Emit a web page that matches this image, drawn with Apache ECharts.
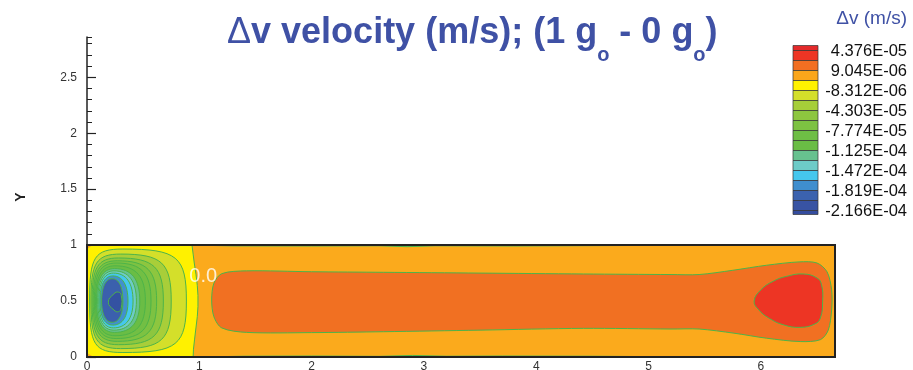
<!DOCTYPE html>
<html><head><meta charset="utf-8">
<script src="https://cdn.jsdelivr.net/npm/echarts@6/dist/echarts.min.js"></script>
<style>html,body{margin:0;padding:0;background:#fff}#c{width:913px;height:370px}</style>
</head><body><div id="c"></div>
<script>
// ---- data (data units) ----
const domainX = [0, 6.66];
const domainY = [0, 1];
const yTickLabels = ['0', '0.5', '1', '1.5', '2', '2.5'];
const xTickLabels = ['0', '1', '2', '3', '4', '5', '6'];
const legendTitle = 'Δv (m/s)';
const legendLabels = ['4.376E-05', '9.045E-06', '-8.312E-06', '-4.303E-05', '-7.774E-05', '-1.125E-04', '-1.472E-04', '-1.819E-04', '-2.166E-04'];
const legendColors = ['#E32A2B', '#EE3524', '#F26F22', '#FAA61B', '#FFF200', '#D4DF2A', '#A6CE39', '#8DC63F', '#7DC242', '#6EBE45', '#6ABD45', '#67C18F', '#6DCBC8', '#45C7EE', '#3F8ECE', '#3B62AE', '#3853A3', '#344C9E'];
const zeroLabel = { text: '0.0', at: [1.035, 0.72] };

// contour regions (polygons in data coordinates)
const orangeBg = [[0, 0], [6.66, 0], [6.66, 1], [0, 1]];
const topWallStrip = [[0.95, 1], [1.3, 0.993], [2.0, 0.992], [2.6, 0.994], [2.85, 0.986], [3.1, 0.994], [3.8, 0.992], [4.5, 0.995], [5.6, 1]];
const bottomWallStrip = [[1.0, 0], [1.4, 0.007], [2.0, 0.009], [2.6, 0.006], [2.9, 0.014], [3.2, 0.007], [3.7, 0.009], [4.5, 0.007], [5.5, 0]];
const yellowLeft = [[0, 1], [0.935, 1], [0.945, 0.92], [0.955, 0.84], [0.97, 0.74], [0.982, 0.64], [0.988, 0.55], [0.988, 0.45], [0.982, 0.36], [0.97, 0.26], [0.958, 0.16], [0.948, 0.07], [0.945, 0], [0, 0]];
const cornerTop = [[0, 1], [0.05, 1], [0, 0.965]];
const cornerBottom = [[0, 0], [0.06, 0], [0, 0.035]];
// vortex contour rings, outer to inner: left / right / top / bottom extents and x of top & bottom extremes
const vortexL = [0.023, 0.035, 0.045, 0.055, 0.065, 0.075, 0.085, 0.095, 0.105, 0.115, 0.13];
const vortexR = [0.885, 0.75, 0.68, 0.62, 0.57, 0.52, 0.47, 0.44, 0.41, 0.365, 0.32];
const vortexT = [0.965, 0.92, 0.885, 0.86, 0.84, 0.815, 0.79, 0.77, 0.75, 0.725, 0.70];
const vortexB = [0.04, 0.075, 0.11, 0.14, 0.165, 0.19, 0.22, 0.24, 0.26, 0.285, 0.31];
const vortexC = [0.32, 0.30, 0.28, 0.27, 0.26, 0.25, 0.245, 0.24, 0.235, 0.23, 0.225];
const vortexCoreY = 0.5;
const vortexCore = [[0.19, 0.49], [0.24, 0.565], [0.28, 0.58], [0.305, 0.55], [0.305, 0.44], [0.28, 0.405], [0.24, 0.42]];
const orangeBand = [[1.11, 0.51], [1.13, 0.66], [1.2, 0.745], [1.42, 0.77], [2, 0.762], [2.64, 0.757], [3.5, 0.75], [4.42, 0.742], [5.2, 0.737], [5.45, 0.737], [5.75, 0.775], [6.05, 0.82], [6.34, 0.85], [6.5, 0.84], [6.59, 0.76], [6.63, 0.6], [6.63, 0.42], [6.6, 0.24], [6.53, 0.155], [6.35, 0.138], [6.05, 0.168], [5.76, 0.213], [5.45, 0.25], [5.2, 0.25], [4.42, 0.256], [3.5, 0.24], [2.64, 0.226], [2, 0.218], [1.42, 0.22], [1.2, 0.26], [1.13, 0.36]];
const redBlob = [[5.94, 0.50], [6.0, 0.60], [6.11, 0.677], [6.23, 0.721], [6.38, 0.742], [6.5, 0.706], [6.54, 0.646], [6.55, 0.498], [6.53, 0.349], [6.48, 0.295], [6.35, 0.265], [6.2, 0.288], [6.07, 0.349], [5.98, 0.423]];

// ---- styling / assembly ----
const vortexColors = ['#D4DF2A', '#A8CE39', '#8DC63F', '#7DC242', '#72BF44', '#6ABD45', '#67C18F', '#6DCBC8', '#45C7EE', '#4190CE', '#3B60AD', '#3452A2'];
const ringSquareness = [0.86, 0.82, 0.79, 0.76, 0.73, 0.70, 0.68, 0.66, 0.65, 0.64, 0.63];
const LINE = '#4DB449';
const FONT = 'Liberation Sans, Arial, sans-serif';
const BLUE = '#3F51A5';

const layers = [];
layers.push({ pts: orangeBg, fill: '#FBAA1C', stroke: null, smooth: 0 });
layers.push({ pts: topWallStrip, fill: '#A8CE39', stroke: LINE, smooth: 0 });
layers.push({ pts: bottomWallStrip, fill: '#A8CE39', stroke: LINE, smooth: 0 });
layers.push({ pts: yellowLeft, fill: '#FFF100', stroke: LINE, smooth: 0 });
layers.push({ pts: cornerTop, fill: '#FBAA1C', stroke: null, smooth: 0 });
layers.push({ pts: cornerBottom, fill: '#FBAA1C', stroke: null, smooth: 0 });
vortexL.forEach((l, i) => layers.push({ ring: i, fill: vortexColors[i], stroke: LINE }));
layers.push({ pts: vortexCore, fill: vortexColors[11], stroke: LINE, smooth: 0.5 });
layers.push({ pts: orangeBand, fill: '#F17022', stroke: LINE, smooth: 0.3 });
layers.push({ pts: redBlob, fill: '#ED3524', stroke: LINE, smooth: 0.45 });
const frame = [[domainX[0], domainY[0]], [domainX[1], domainY[0]], [domainX[1], domainY[1]], [domainX[0], domainY[1]]];

// ring outline: four cubic quarter curves through the read extents (drawn in pixel space)
function ringPixels(i, api) {
  const L = vortexL[i], R = vortexR[i], T = vortexT[i], B = vortexB[i], C = vortexC[i], Y = vortexCoreY, k = ringSquareness[i];
  const quarters = [
    [[L, Y], [L, Y + k * (T - Y)], [C - k * (C - L), T], [C, T]],
    [[C, T], [C + k * (R - C), T], [R, Y + k * (T - Y)], [R, Y]],
    [[R, Y], [R, Y - k * (Y - B)], [C + k * (R - C), B], [C, B]],
    [[C, B], [C - k * (C - L), B], [L, Y - k * (Y - B)], [L, Y]]
  ];
  const out = [];
  quarters.forEach(q => {
    const p = q.map(d => api.coord(d));
    const N = 16;
    for (let s = 0; s < N; s++) {
      const t = s / N, u = 1 - t;
      const a = u * u * u, b = 3 * u * u * t, c = 3 * u * t * t, d = t * t * t;
      out.push([a * p[0][0] + b * p[1][0] + c * p[2][0] + d * p[3][0], a * p[0][1] + b * p[1][1] + c * p[2][1] + d * p[3][1]]);
    }
  });
  return out;
}

const chart = echarts.init(document.getElementById('c'), null, { renderer: 'canvas' });

const graphics = [];
let yy = 45.5;
legendColors.forEach((c, i) => {
  const h = (i === 0) ? 5 : (i === legendColors.length - 1 ? 4 : 10);
  graphics.push({ type: 'rect', shape: { x: 793, y: yy, width: 25, height: h }, style: { fill: c, stroke: '#333', lineWidth: 0.7 }, silent: true });
  yy += h;
});
legendLabels.forEach((t, j) => {
  graphics.push({ type: 'text', style: { text: t, x: 907, y: 51.5 + 20 * j, align: 'right', verticalAlign: 'middle', textAlign: 'right', textVerticalAlign: 'middle', fill: '#111', font: '16.5px ' + FONT }, silent: true });
});

const option = {
  animation: false,
  backgroundColor: '#fff',
  title: [{
    text: '{d|Δ}{m|v velocity (m/s); (1 g}{s|o}{m| - 0 g}{s|o}{m|)}',
    left: 227, top: 15, padding: 0,
    textStyle: {
      rich: {
        d: { fontSize: 36, fontWeight: 'normal', color: BLUE, fontFamily: FONT, lineHeight: 36, verticalAlign: 'top' },
        m: { fontSize: 36, fontWeight: 'bold', color: BLUE, fontFamily: FONT, lineHeight: 36, verticalAlign: 'top' },
        s: { fontSize: 20, fontWeight: 'bold', color: BLUE, fontFamily: FONT, lineHeight: 80 }
      }
    }
  }, {
    text: legendTitle,
    right: 6, top: 9, padding: 0,
    textStyle: { fontSize: 19, fontWeight: 'normal', color: BLUE, fontFamily: FONT }
  }],
  grid: { left: 87, right: 78, top: 37, bottom: 13, outerBoundsMode: 'none', containLabel: false },
  xAxis: [{
    type: 'value', min: domainX[0], max: domainX[1], interval: 1, position: 'bottom',
    axisLine: { show: true, lineStyle: { color: '#222', width: 1.5 } },
    axisTick: { show: true, inside: true, length: 8, lineStyle: { color: '#222', width: 1.2 } },
    minorTick: { show: false },
    axisLabel: { show: true, margin: 4, color: '#333', fontSize: 12, fontFamily: FONT, showMaxLabel: false,
      formatter: v => { const k = Math.round(v); return Math.abs(v - k) < 1e-9 && xTickLabels[k] !== undefined ? xTickLabels[k] : ''; } },
    splitLine: { show: false }
  }, {
    type: 'value', min: domainX[0], max: domainX[1], interval: 0.2, position: 'bottom', offset: 0,
    axisLine: { show: false },
    axisTick: { show: true, inside: true, length: 4, lineStyle: { color: '#222', width: 1 } },
    axisLabel: { show: false }, splitLine: { show: false }
  }],
  yAxis: [{
    type: 'value', min: 0, max: 2.86, interval: 0.5, position: 'left',
    name: 'Y', nameLocation: 'middle', nameGap: 59, nameRotate: 90,
    nameTextStyle: { color: '#222', fontSize: 14, fontWeight: 'bold', fontFamily: FONT },
    axisLine: { show: true, lineStyle: { color: '#222', width: 1.5 } },
    axisTick: { show: true, inside: true, length: 9, lineStyle: { color: '#222', width: 1.2 } },
    minorTick: { show: false },
    axisLabel: { show: true, margin: 10, color: '#333', fontSize: 12, fontFamily: FONT, showMaxLabel: false,
      formatter: v => { const k = Math.round(v * 2); return Math.abs(v * 2 - k) < 1e-9 && yTickLabels[k] !== undefined ? yTickLabels[k] : ''; } },
    splitLine: { show: false }
  }, {
    type: 'value', min: 0, max: 2.86, interval: 0.1, position: 'left', offset: 0,
    axisLine: { show: false },
    axisTick: { show: true, inside: true, length: 5, lineStyle: { color: '#222', width: 1 } },
    axisLabel: { show: false }, splitLine: { show: false }
  }],
  series: [{
    type: 'custom', coordinateSystem: 'cartesian2d', xAxisIndex: 0, yAxisIndex: 0,
    silent: true,
    data: layers.map(() => [0.5, 0.5]),
    renderItem: function (params, api) {
      const Ly = layers[params.dataIndex];
      const pts = Ly.ring !== undefined ? ringPixels(Ly.ring, api) : Ly.pts.map(p => api.coord(p));
      return {
        type: 'polygon',
        shape: { points: pts, smooth: Ly.smooth || 0 },
        style: { fill: Ly.fill, stroke: Ly.stroke || null, lineWidth: Ly.stroke ? 1 : 0 }
      };
    }
  }, {
    type: 'custom', coordinateSystem: 'cartesian2d', xAxisIndex: 0, yAxisIndex: 0, silent: true,
    data: [[0.5, 0.5]],
    renderItem: function (params, api) {
      return { type: 'polygon', shape: { points: frame.map(p => api.coord(p)) }, style: { fill: 'none', stroke: '#222', lineWidth: 2 } };
    }
  }, {
    type: 'scatter', xAxisIndex: 0, yAxisIndex: 0, symbolSize: 0, silent: true,
    data: [zeroLabel.at],
    label: { show: true, position: 'inside', formatter: zeroLabel.text, color: '#fff', fontSize: 20, fontFamily: FONT }
  }],
  graphic: graphics
};
chart.setOption(option);
</script></body></html>
